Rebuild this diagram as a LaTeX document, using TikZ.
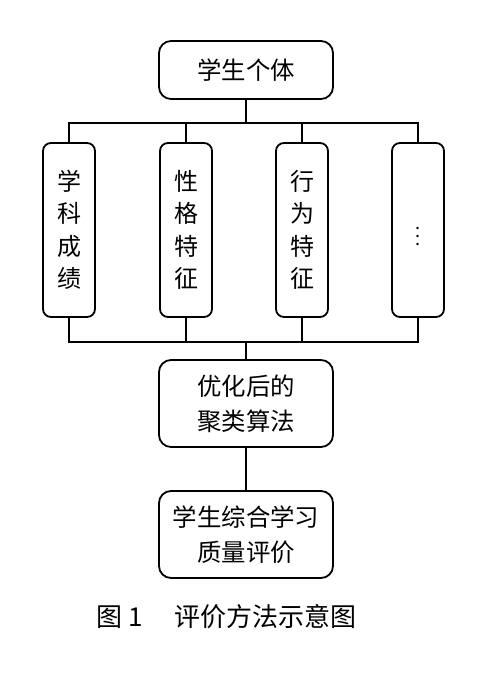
\documentclass[tikz,border=0pt]{standalone}
\usepackage{fontspec}
\setmainfont{Noto Sans CJK SC}
\usetikzlibrary{positioning, calc}
\tikzset{every picture/.append style={line width=0.9pt}}

\begin{document}
\begin{tikzpicture}[x=0.5pt, y=-0.5pt,
    wide box/.style={draw, rounded corners=6pt, minimum width=87pt, align=center},
    tall box/.style={draw, rounded corners=4pt, minimum width=26pt, minimum height=87pt,
        inner sep=0pt, align=center, font=\fontsize{12}{16.2}\selectfont}]
        \useasboundingbox (0,0) rectangle (500,684);

        % Top box
        \node[wide box, minimum height=29pt, font=\fontsize{12.2}{14}\selectfont] (indiv) at (246,70) {学生个体};

        % Four feature boxes
        \node[tall box] (score) at (69,230) {学\\科\\成\\绩};
        \node[tall box] (trait) at (186,230) {性\\格\\特\\征};
        \node[tall box] (behav) at (302,230) {行\\为\\特\\征};
        \node[tall box, font=\small] (more) at (418,230) {$\vdots$};

        % Lower boxes
        \node[wide box, minimum height=43.5pt, font=\fontsize{12.2}{17.5}\selectfont] (algo) at (246,403.5) {优化后的\\聚类算法};
        \node[wide box, minimum height=43.5pt, font=\fontsize{12.2}{17.5}\selectfont] (eval) at (246,534.5) {学生综合学习\\质量评价};

        % Buses
        \coordinate (busT) at (246,123);
        \coordinate (busB) at (246,342);
        \draw (indiv.south) -- (busT);
        \foreach \n in {score, trait, behav, more} {
            \draw (\n.north) |- (busT);
            \draw (\n.south) |- (busB);
        }
        \draw (busB) -- (algo.north);
        \draw (algo.south) -- (eval.north);

        % Caption
        \node[font=\fontsize{13}{15}\selectfont] (cap) at (226.5,617) {图 1\hspace{16pt}评价方法示意图};
    \end{tikzpicture}
\end{document}
